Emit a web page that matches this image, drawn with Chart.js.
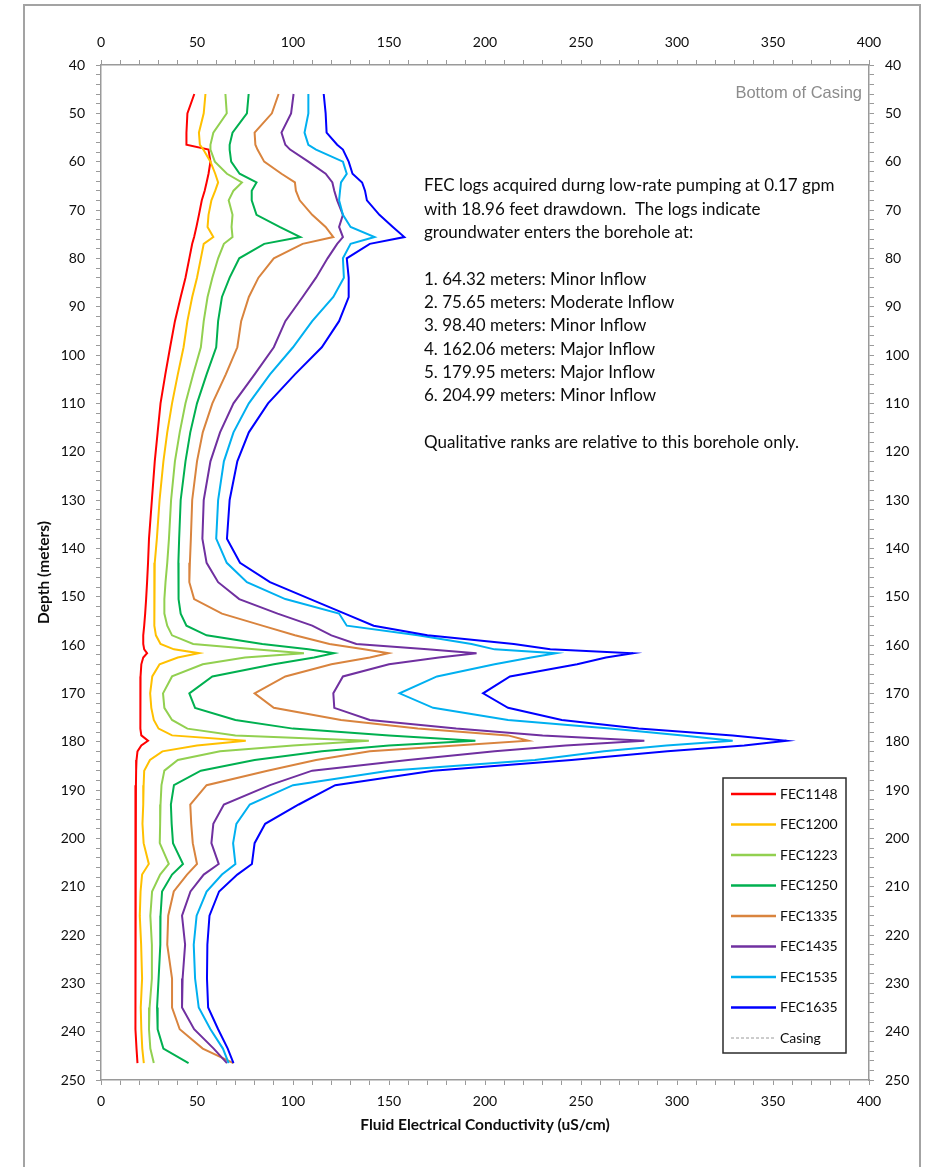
<!DOCTYPE html>
<html>
<head>
<meta charset="utf-8">
<script src="https://cdn.jsdelivr.net/npm/chart.js@4.4.1/dist/chart.umd.min.js"></script>
<style>
  html, body { margin: 0; padding: 0; background: #fff; }
  #wrap { position: relative; width: 925px; height: 1167px; }
</style>
</head>
<body>
<div id="wrap"><canvas id="chart" width="925" height="1167"></canvas></div>
<script>
const depths = [46, 50, 54, 56.5, 57.5, 60, 62.5, 64.3, 66, 68, 71, 73.5, 75.6, 77, 80, 84, 88, 93, 98.4, 104, 110, 116, 122, 130, 138, 143, 147, 150.5, 153.5, 156, 158, 159.8, 160.9, 161.7, 162.6, 164, 166.5, 170, 173, 175.5, 177.3, 178.7, 179.8, 180.8, 182, 183.8, 186, 189, 193, 197, 201, 205.3, 207.5, 211, 216, 222, 229, 235, 239.5, 243.5, 246.5];

// Fluid electrical conductivity (uS/cm), one list per log
const fec1148 = [48.6, 45, 44.5, 44.5, 56, 57, 56, 55, 54, 52.5, 51, 49.7, 48.5, 47.5, 46, 44, 41.5, 38.5, 36, 33.5, 31, 29.5, 28, 26.5, 25, 24.5, 24, 23.5, 23, 22.5, 22, 22, 22.5, 24, 22, 21, 20.6, 20.5, 20.5, 20.5, 20.5, 21, 24.5, 21, 19, 18.5, 18.3, 18.2, 18.1, 18, 18, 18, 18, 17.8, 17.8, 17.8, 17.8, 18, 18, 18.5, 19];
const fec1200 = [54.4, 53.5, 51, 51.5, 53.3, 57, 59.5, 61, 59.5, 57.5, 56, 55.5, 58.5, 53.5, 52, 50, 47.5, 45, 43, 40, 37, 34.5, 32.5, 30.5, 29.1, 28, 27.7, 27.7, 27.7, 28, 28.6, 31, 38, 51, 40, 30.5, 26.7, 25.6, 26.2, 27.5, 30, 37, 75.4, 50, 32, 25.5, 22.5, 22.2, 22, 21.6, 22.2, 24.9, 21.4, 20.6, 20.2, 20.9, 21.4, 20.7, 21, 21.5, 22.3];
const fec1223 = [64.8, 65.5, 58.5, 57, 57, 59.3, 65.6, 73.4, 69, 66.5, 68.5, 68, 68.5, 64, 61, 58, 55.5, 53.5, 52, 48, 44, 41, 38.5, 36.5, 35.4, 34.5, 33.6, 33, 33, 34.5, 37, 48, 80, 105.7, 75, 53, 37, 32.3, 33, 37, 45, 70, 139.5, 100, 62, 40, 33, 31.5, 31, 30.8, 30.6, 35.3, 30.8, 26.6, 25.7, 26.5, 26.5, 25.3, 25, 25.7, 27.5];
const fec1250 = [76.9, 76, 68.5, 67, 67, 67.8, 72.2, 81, 78.5, 78.5, 81, 93, 103.8, 85, 72, 67, 63, 61, 60, 55, 50, 46.5, 44, 41.5, 40.7, 40.3, 40.2, 40.6, 41.5, 44.5, 55, 84, 108, 121.3, 111, 90, 58, 46, 49, 70, 100, 150, 195, 150, 115, 80, 52, 38, 36.4, 36.8, 37.5, 42.7, 37, 31.8, 31, 30.9, 30, 29.2, 29.5, 32.5, 45.6];
const fec1335 = [92.5, 89, 80, 80.4, 81.5, 85, 94, 101, 101.5, 103.5, 110, 117, 121, 105, 90, 82, 77, 73, 71, 65, 58, 53, 50, 47.5, 46.8, 46.3, 46, 48.5, 63, 84, 101, 119, 137, 149.7, 140, 120, 96, 80, 90, 125, 165, 212, 222.5, 185, 140, 112, 86.7, 55, 46.5, 47, 47.8, 50, 44.8, 37.9, 35, 34.5, 37, 37, 41, 53, 69];
const fec1435 = [100.3, 99, 94, 96, 98.5, 108, 117, 120.5, 121.5, 123, 126, 124, 126, 123, 118, 112, 105, 96, 90, 80, 69, 62, 57, 53.5, 52.8, 55, 61, 72, 92, 110, 120, 133, 170, 195.6, 176, 150, 126, 121, 121.5, 140, 185, 230, 283, 242, 205, 160, 110, 88, 64, 58.5, 57.5, 61.3, 53.5, 46.6, 42.2, 43.8, 42.5, 42.2, 48.5, 58.7, 65.6];
const fec1535 = [108, 108, 106, 108, 112, 126, 128, 125, 124.5, 124, 126, 130, 142.5, 130, 126, 126.5, 121, 110, 100, 88, 77, 69, 64, 61, 60, 65.5, 76, 96, 124, 128, 165, 193, 205, 237, 224, 205, 175, 155.5, 173, 212, 265, 303, 329, 294.5, 262, 226, 150, 100, 77.5, 70.5, 68.8, 70, 63, 55, 49.8, 48.3, 49, 50.9, 57, 63.5, 66.5];
const fec1635 = [116, 117, 117.5, 123, 126, 129, 131, 136, 137.5, 138.5, 145, 152, 158, 140, 128, 129, 129, 124, 115, 101, 87, 77, 71, 67, 65.6, 72.4, 88, 109, 127, 142, 170, 215, 234, 277, 263, 248, 213, 199, 212, 240, 280, 329, 357, 335, 295, 245, 173, 122, 103, 85.5, 80, 78.6, 71, 61.5, 56.5, 55.4, 55.2, 55.8, 61, 66, 69];

const seriesNames = ["FEC1148", "FEC1200", "FEC1223", "FEC1250", "FEC1335", "FEC1435", "FEC1535", "FEC1635"];
const seriesValues = [fec1148, fec1200, fec1223, fec1250, fec1335, fec1435, fec1535, fec1635];
const casingName = "Casing";
const casingLabel = "Bottom of Casing";

const xTitle = "Fluid Electrical Conductivity (uS/cm)";
const yTitle = "Depth (meters)";

const noteLines = [
  "FEC logs acquired durng low-rate pumping at 0.17 gpm",
  "with 18.96 feet drawdown.  The logs indicate",
  "groundwater enters the borehole at:",
  "",
  "1. 64.32 meters: Minor Inflow",
  "2. 75.65 meters: Moderate Inflow",
  "3. 98.40 meters: Minor Inflow",
  "4. 162.06 meters: Major Inflow",
  "5. 179.95 meters: Major Inflow",
  "6. 204.99 meters: Minor Inflow",
  "",
  "Qualitative ranks are relative to this borehole only.",
];

const colors = {
  lines: ["#ff0000", "#ffc000", "#92d050", "#00b050", "#d9843e", "#7030a0", "#00b0f0", "#0000ff"],
  casing: "#9a9a9a",
  axis: "#9a9a9a",
  text: "#0d0d0d",
  note: "#8c8c8c",
};
const fontFamily = "Lato, 'Open Sans', sans-serif";

const datasets = seriesNames.map((name, i) => ({
  label: name,
  data: depths.map((d, k) => ({ x: seriesValues[i][k], y: d })),
  borderColor: colors.lines[i],
  backgroundColor: colors.lines[i],
  borderWidth: 2,
  showLine: true,
  pointRadius: 0,
  tension: 0,
  order: seriesNames.length - i, // later logs drawn on top, as in the source
}));
datasets.push({
  label: casingName,
  data: [],
  borderColor: colors.casing,
  borderWidth: 1,
  borderDash: [3, 2],
  showLine: true,
  pointRadius: 0,
});

// outer frame of the figure
const frame = {
  id: "frame",
  beforeDraw(chart) {
    const { ctx } = chart;
    ctx.save();
    ctx.strokeStyle = "#a3a3a3";
    ctx.lineWidth = 2;
    ctx.strokeRect(24, 5, 896, 1200);
    ctx.restore();
  },
};

// annotation text and casing label
const notes = {
  id: "notes",
  afterDatasetsDraw(chart) {
    const { ctx } = chart;
    ctx.save();
    ctx.fillStyle = colors.text;
    ctx.font = `17px ${fontFamily}`;
    ctx.textBaseline = "middle";
    noteLines.forEach((t, i) => ctx.fillText(t, 424, 186 + i * 23.3));
    ctx.fillStyle = colors.note;
    ctx.font = "16.5px 'Liberation Sans', Arial, sans-serif";
    ctx.textAlign = "right";
    ctx.fillText(casingLabel, 862, 93);
    ctx.restore();
  },
};

// boxed legend inside the plot, like the spreadsheet one
const boxLegend = {
  id: "boxLegend",
  afterDraw(chart) {
    const { ctx } = chart;
    const left = 723, top = 778, w = 123, h = 275;
    ctx.save();
    ctx.fillStyle = "#fff";
    ctx.fillRect(left, top, w, h);
    ctx.strokeStyle = "#2b2b2b";
    ctx.lineWidth = 1.5;
    ctx.strokeRect(left, top, w, h);
    ctx.textBaseline = "middle";
    chart.data.datasets.forEach((ds, i) => {
      const y = 794 + i * 30.5;
      ctx.strokeStyle = ds.borderColor;
      ctx.lineWidth = ds.borderWidth === 1 ? 1 : 2.5;
      ctx.setLineDash(ds.borderDash || []);
      ctx.beginPath();
      ctx.moveTo(731, y);
      ctx.lineTo(776, y);
      ctx.stroke();
      ctx.setLineDash([]);
      ctx.fillStyle = colors.text;
      ctx.font = `14px ${fontFamily}`;
      ctx.fillText(ds.label, 780, y);
    });
    ctx.restore();
  },
};

const tickFont = { family: fontFamily, size: 14 };
const titleFont = { family: fontFamily, size: 15.5, weight: "bold" };
const tickGrid = { drawOnChartArea: false, drawTicks: true, tickLength: 5, tickColor: colors.axis, tickWidth: 1 };
const axisBorder = { display: true, color: colors.axis, width: 1.5 };

const xTicks = {
  stepSize: 10,
  autoSkip: false,
  maxRotation: 0,
  color: colors.text,
  font: tickFont,
  callback: (v) => (v % 50 === 0 ? v : ""),
};
const yTicks = {
  stepSize: 2,
  autoSkip: false,
  color: colors.text,
  font: tickFont,
  padding: 11,
  callback: (v) => (v % 10 === 0 ? v : ""),
};

// eslint-disable-next-line no-new
new Chart(document.getElementById("chart"), {
  type: "scatter",
  data: { datasets },
  plugins: [frame, notes, boxLegend],
  options: {
    responsive: false,
    animation: false,
    devicePixelRatio: 1,
    layout: { padding: 0 },
    plugins: {
      legend: { display: false },
      tooltip: { enabled: false },
    },
    scales: {
      x: {
        type: "linear",
        position: "top",
        min: 0,
        max: 400,
        ticks: { ...xTicks, padding: 9 },
        grid: tickGrid,
        border: axisBorder,
        afterFit: (s) => { s.height = 65; },
      },
      x2: {
        type: "linear",
        position: "bottom",
        min: 0,
        max: 400,
        ticks: { ...xTicks, padding: 8 },
        grid: tickGrid,
        border: axisBorder,
        title: { display: true, text: xTitle, color: colors.text, font: titleFont, padding: { top: 0, bottom: 33 } },
        afterFit: (s) => { s.height = 87; },
      },
      y: {
        type: "linear",
        position: "left",
        reverse: true,
        min: 40,
        max: 250,
        ticks: yTicks,
        grid: tickGrid,
        border: axisBorder,
        title: { display: true, text: yTitle, color: colors.text, font: titleFont, padding: { top: 35, bottom: 0 } },
        afterFit: (s) => { s.width = 101; },
      },
      y2: {
        type: "linear",
        position: "right",
        reverse: true,
        min: 40,
        max: 250,
        ticks: yTicks,
        grid: tickGrid,
        border: axisBorder,
        afterFit: (s) => { s.width = 56; },
      },
    },
  },
});
</script>
</body>
</html>
